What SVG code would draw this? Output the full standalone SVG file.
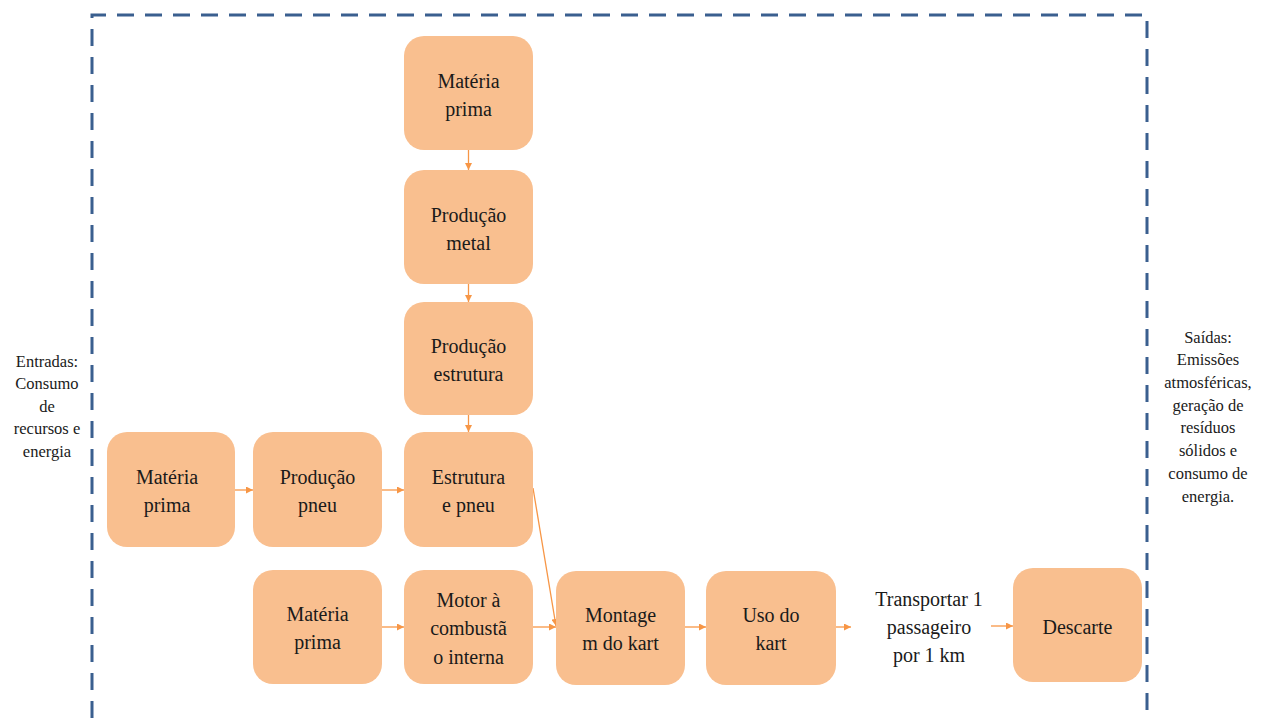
<svg xmlns="http://www.w3.org/2000/svg" width="1269" height="718" viewBox="0 0 1269 718">
  <defs>
    <marker id="arr" viewBox="0 0 10 10" refX="10" refY="5" markerWidth="7" markerHeight="7" markerUnits="userSpaceOnUse" orient="auto">
      <path d="M0,0 L10,5 L0,10 z" fill="#f79646"/>
    </marker>
    <style>
      .box { fill: #f9bf8f; }
      .lbl { font-family: 'Liberation Serif', Tinos, 'Times New Roman', Times, 'DejaVu Serif', serif; font-size: 20px; fill: #1a1a1a; text-anchor: middle; }
      .side { font-family: 'Liberation Serif', Tinos, 'Times New Roman', Times, 'DejaVu Serif', serif; font-size: 16.5px; fill: #1a1a1a; text-anchor: middle; }
      .edge { stroke: #f79646; stroke-width: 1.3; fill: none; marker-end: url(#arr); }
      .frame { fill: none; stroke: #3a5f8f; stroke-width: 3; stroke-dasharray: 17 11; }
    </style>
  </defs>
  <rect width="1269" height="718" fill="#ffffff"/>

  <!-- system boundary -->
  <path class="frame" d="M92,718 L92,15 L1147,15 L1147,718"/>

  <!-- side notes -->
  <g id="entradas">
    <text class="side" x="47" y="367">Entradas:</text>
    <text class="side" x="47" y="389">Consumo</text>
    <text class="side" x="47" y="412">de</text>
    <text class="side" x="47" y="434">recursos e</text>
    <text class="side" x="47" y="457">energia</text>
  </g>
  <g id="saidas">
    <text class="side" x="1208" y="343">Saídas:</text>
    <text class="side" x="1208" y="365">Emissões</text>
    <text class="side" x="1208" y="388">atmosféricas,</text>
    <text class="side" x="1208" y="411">geração de</text>
    <text class="side" x="1208" y="433">resíduos</text>
    <text class="side" x="1208" y="456">sólidos e</text>
    <text class="side" x="1208" y="479">consumo de</text>
    <text class="side" x="1208" y="502">energia.</text>
  </g>

  <!-- connectors -->
  <g id="connectors">
    <line class="edge" x1="468.5" y1="150" x2="468.5" y2="170"/>
    <line class="edge" x1="468.5" y1="284" x2="468.5" y2="302"/>
    <line class="edge" x1="468.5" y1="415" x2="468.5" y2="432"/>
    <line class="edge" x1="235" y1="490" x2="253" y2="490"/>
    <line class="edge" x1="382" y1="490" x2="404" y2="490"/>
    <line class="edge" x1="533" y1="488" x2="556" y2="626"/>
    <line class="edge" x1="382" y1="627" x2="404" y2="627"/>
    <line class="edge" x1="533" y1="627" x2="556" y2="627"/>
    <line class="edge" x1="685" y1="627" x2="706" y2="627"/>
    <line class="edge" x1="836" y1="627" x2="851" y2="627"/>
    <line class="edge" x1="991" y1="626" x2="1013" y2="626"/>
  </g>

  <!-- nodes -->
  <g id="materia-prima-metal">
    <rect class="box" x="404" y="36" width="129" height="114" rx="20"/>
    <text class="lbl" x="468.5" y="88">Matéria</text>
    <text class="lbl" x="468.5" y="116">prima</text>
  </g>
  <g id="producao-metal">
    <rect class="box" x="404" y="170" width="129" height="114" rx="20"/>
    <text class="lbl" x="468.5" y="222">Produção</text>
    <text class="lbl" x="468.5" y="250">metal</text>
  </g>
  <g id="producao-estrutura">
    <rect class="box" x="404" y="302" width="129" height="113" rx="20"/>
    <text class="lbl" x="468.5" y="353">Produção</text>
    <text class="lbl" x="468.5" y="381">estrutura</text>
  </g>
  <g id="materia-prima-pneu">
    <rect class="box" x="107" y="432" width="128" height="115" rx="20"/>
    <text class="lbl" x="167" y="484">Matéria</text>
    <text class="lbl" x="167" y="512">prima</text>
  </g>
  <g id="producao-pneu">
    <rect class="box" x="253" y="432" width="129" height="115" rx="20"/>
    <text class="lbl" x="317.5" y="484">Produção</text>
    <text class="lbl" x="317.5" y="512">pneu</text>
  </g>
  <g id="estrutura-pneu">
    <rect class="box" x="404" y="432" width="129" height="115" rx="20"/>
    <text class="lbl" x="468.5" y="484">Estrutura</text>
    <text class="lbl" x="468.5" y="512">e pneu</text>
  </g>
  <g id="materia-prima-motor">
    <rect class="box" x="253" y="570" width="129" height="114" rx="20"/>
    <text class="lbl" x="317.5" y="621">Matéria</text>
    <text class="lbl" x="317.5" y="649">prima</text>
  </g>
  <g id="motor">
    <rect class="box" x="404" y="570" width="129" height="114" rx="20"/>
    <text class="lbl" x="468.5" y="607">Motor à</text>
    <text class="lbl" x="468.5" y="635">combustã</text>
    <text class="lbl" x="468.5" y="664">o interna</text>
  </g>
  <g id="montagem">
    <rect class="box" x="556" y="571" width="129" height="114" rx="20"/>
    <text class="lbl" x="620.5" y="622">Montage</text>
    <text class="lbl" x="620.5" y="650">m do kart</text>
  </g>
  <g id="uso-kart">
    <rect class="box" x="706" y="571" width="130" height="114" rx="20"/>
    <text class="lbl" x="771" y="622">Uso do</text>
    <text class="lbl" x="771" y="650">kart</text>
  </g>
  <g id="unidade-funcional">
    <text class="lbl" x="929" y="606">Transportar 1</text>
    <text class="lbl" x="929" y="634">passageiro</text>
    <text class="lbl" x="929" y="662">por 1 km</text>
  </g>
  <g id="descarte">
    <rect class="box" x="1013" y="568" width="129" height="114" rx="20"/>
    <text class="lbl" x="1077.5" y="634">Descarte</text>
  </g>
</svg>
